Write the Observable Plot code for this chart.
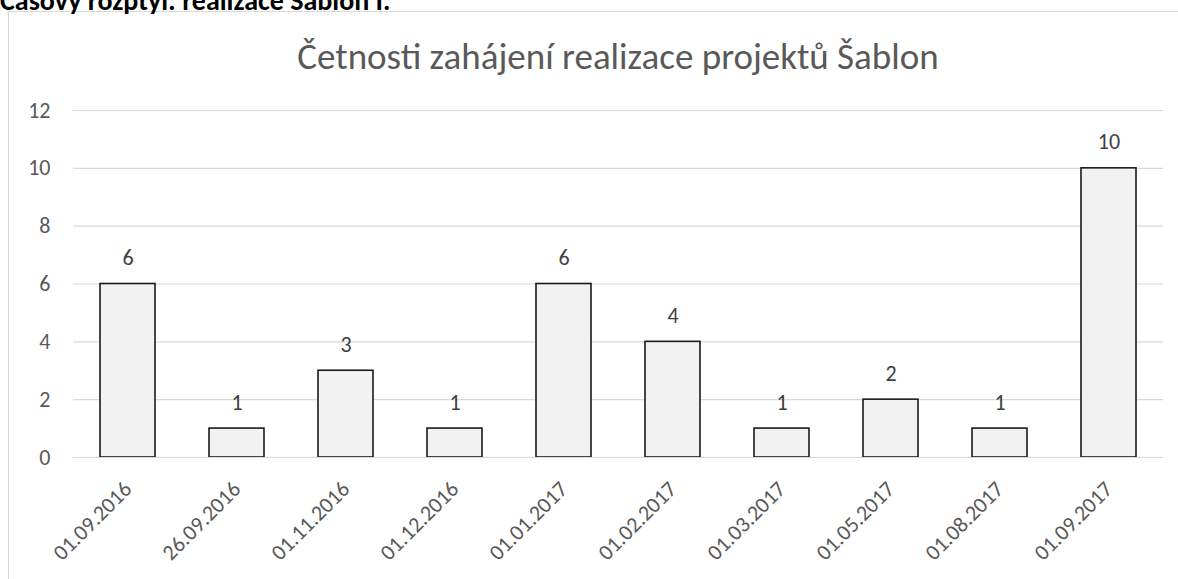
<!DOCTYPE html>
<html>
<head>
<meta charset="utf-8">
<script src="https://cdn.jsdelivr.net/npm/d3@7"></script>
<script src="https://cdn.jsdelivr.net/npm/@observablehq/plot@0.6"></script>
<style>
  html, body { margin: 0; padding: 0; background: #fff; overflow: hidden; }
  #wrap { position: relative; width: 1178px; height: 579px; overflow: hidden; font-family: Carlito, Calibri, Lato, sans-serif; }
  #heading { position: absolute; left: 0; top: -13px; font-size: 28px; line-height: 28px; font-weight: bold; color: #000; white-space: nowrap; }
  #frame { position: absolute; left: 8px; top: 11px; width: 1200px; height: 620px; border: 1px solid #d9d9d9; box-sizing: border-box; }
  #title { position: absolute; left: 73px; width: 1090px; top: 35px; text-align: center; font-size: 37px; line-height: 44px; color: #595959; white-space: nowrap; }
  #chart { position: absolute; left: 0; top: 0; }
</style>
</head>
<body>
<div id="wrap">
  <div id="frame"></div>
  <div id="heading">Časový rozptyl: realizace Šablon I.</div>
  <div id="title">Četnosti zahájení realizace projektů Šablon</div>
  <div id="chart"></div>
</div>
<script>
const dates = ["01.09.2016","26.09.2016","01.11.2016","01.12.2016","01.01.2017","01.02.2017","01.03.2017","01.05.2017","01.08.2017","01.09.2017"];
const counts = [6, 1, 3, 1, 6, 4, 1, 2, 1, 10];
const yTicks = [0, 2, 4, 6, 8, 10, 12];

const data = dates.map((d, i) => ({date: d, count: counts[i]}));

const chart = Plot.plot({
  width: 1178,
  height: 579,
  marginLeft: 73,
  marginRight: 15,
  marginTop: 110,
  marginBottom: 122,
  style: {fontFamily: "Carlito, Calibri, Lato, sans-serif", background: "transparent"},
  x: {type: "band", domain: dates, paddingInner: 0.5, paddingOuter: 0.25},
  y: {domain: [0, 12]},
  marks: [
    Plot.gridY(yTicks, {stroke: "#d9d9d9", strokeOpacity: 1, strokeWidth: 1.2}),
    Plot.barY(data, {x: "date", y: "count", fill: "#f2f2f2", stroke: "#1a1a1a", strokeWidth: 1.6}),
    Plot.ruleY([0], {stroke: "#d9d9d9", strokeWidth: 1.2}),
    Plot.text(data, {x: "date", y: "count", text: d => String(d.count), dy: -26, fill: "#404040", fontSize: 22}),
    Plot.axisY(yTicks, {tickSize: 0, tickPadding: 23, fontSize: 22, color: "#595959", label: null}),
    Plot.axisX({tickRotate: -45, tickSize: 0, tickPadding: 28, fontSize: 22, color: "#595959", label: null})
  ]
});
document.getElementById("chart").appendChild(chart);
</script>
</body>
</html>
